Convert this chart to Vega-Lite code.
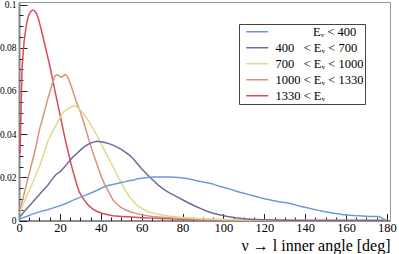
{
"$schema": "https://vega.github.io/schema/vega-lite/v6.json",
"width": 371, "height": 218.5,
"autosize": {"type": "none"},
"padding": {"left": 19, "top": 2, "right": 9, "bottom": 33.5},
"config": {"view": {"stroke": "#999", "strokeWidth": 1}, "font": "Liberation Serif, Times New Roman, serif"},
"datasets": {
"h": [
{"s":"gt1330","a":0.5,"v":0.031},{"s":"gt1330","a":1.5,"v":0.071},{"s":"gt1330","a":2.5,"v":0.083},{"s":"gt1330","a":3.5,"v":0.090},{"s":"gt1330","a":4.5,"v":0.0945},{"s":"gt1330","a":5.5,"v":0.0965},{"s":"gt1330","a":6.5,"v":0.0975},{"s":"gt1330","a":7.5,"v":0.0972},{"s":"gt1330","a":8.5,"v":0.096},{"s":"gt1330","a":9.5,"v":0.0935},{"s":"gt1330","a":10.5,"v":0.0898},{"s":"gt1330","a":11.5,"v":0.086},{"s":"gt1330","a":12.5,"v":0.082},{"s":"gt1330","a":13.5,"v":0.078},{"s":"gt1330","a":14.5,"v":0.074},{"s":"gt1330","a":15.5,"v":0.0698},{"s":"gt1330","a":16.5,"v":0.065},{"s":"gt1330","a":17.5,"v":0.0605},{"s":"gt1330","a":18.5,"v":0.056},{"s":"gt1330","a":19.5,"v":0.0515},{"s":"gt1330","a":20.5,"v":0.047},{"s":"gt1330","a":21.5,"v":0.0425},{"s":"gt1330","a":22.5,"v":0.038},{"s":"gt1330","a":23.5,"v":0.034},{"s":"gt1330","a":24.5,"v":0.030},{"s":"gt1330","a":25.5,"v":0.026},{"s":"gt1330","a":26.5,"v":0.0225},{"s":"gt1330","a":27.5,"v":0.0192},{"s":"gt1330","a":28.5,"v":0.0160},{"s":"gt1330","a":29.5,"v":0.0132},{"s":"gt1330","a":30.5,"v":0.0115},{"s":"gt1330","a":32,"v":0.0093},{"s":"gt1330","a":34,"v":0.0070},{"s":"gt1330","a":36,"v":0.0054},{"s":"gt1330","a":38,"v":0.0043},{"s":"gt1330","a":40,"v":0.0035},{"s":"gt1330","a":43,"v":0.0028},{"s":"gt1330","a":46,"v":0.0022},{"s":"gt1330","a":50,"v":0.0019},{"s":"gt1330","a":55,"v":0.0016},{"s":"gt1330","a":60,"v":0.0013},{"s":"gt1330","a":65,"v":0.0011},{"s":"gt1330","a":70,"v":0.0009},{"s":"gt1330","a":80,"v":0.0006},{"s":"gt1330","a":90,"v":0.0004},{"s":"gt1330","a":100,"v":0.0002},{"s":"gt1330","a":110,"v":0.0001},{"s":"gt1330","a":120,"v":0.00005},{"s":"gt1330","a":140,"v":0},{"s":"gt1330","a":180,"v":0},
{"s":"1000-1330","a":0.5,"v":0.0049},{"s":"1000-1330","a":2,"v":0.0105},{"s":"1000-1330","a":4,"v":0.018},{"s":"1000-1330","a":6,"v":0.0255},{"s":"1000-1330","a":8,"v":0.033},{"s":"1000-1330","a":10,"v":0.042},{"s":"1000-1330","a":12,"v":0.049},{"s":"1000-1330","a":14,"v":0.056},{"s":"1000-1330","a":16,"v":0.0625},{"s":"1000-1330","a":17.5,"v":0.0668},{"s":"1000-1330","a":18.5,"v":0.0675},{"s":"1000-1330","a":19.5,"v":0.0672},{"s":"1000-1330","a":20.5,"v":0.0664},{"s":"1000-1330","a":21.5,"v":0.0668},{"s":"1000-1330","a":22.5,"v":0.0676},{"s":"1000-1330","a":23.5,"v":0.0668},{"s":"1000-1330","a":24.5,"v":0.065},{"s":"1000-1330","a":26,"v":0.061},{"s":"1000-1330","a":28,"v":0.055},{"s":"1000-1330","a":30,"v":0.0505},{"s":"1000-1330","a":32,"v":0.0445},{"s":"1000-1330","a":34,"v":0.038},{"s":"1000-1330","a":36,"v":0.032},{"s":"1000-1330","a":38,"v":0.0265},{"s":"1000-1330","a":40,"v":0.021},{"s":"1000-1330","a":42,"v":0.0165},{"s":"1000-1330","a":44,"v":0.013},{"s":"1000-1330","a":46,"v":0.0095},{"s":"1000-1330","a":48,"v":0.0075},{"s":"1000-1330","a":50,"v":0.006},{"s":"1000-1330","a":52,"v":0.005},{"s":"1000-1330","a":55,"v":0.0038},{"s":"1000-1330","a":60,"v":0.0026},{"s":"1000-1330","a":65,"v":0.0019},{"s":"1000-1330","a":70,"v":0.0015},{"s":"1000-1330","a":80,"v":0.0009},{"s":"1000-1330","a":90,"v":0.0005},{"s":"1000-1330","a":100,"v":0.0002},{"s":"1000-1330","a":110,"v":0.0001},{"s":"1000-1330","a":120,"v":0},{"s":"1000-1330","a":180,"v":0},
{"s":"700-1000","a":0.5,"v":0.0035},{"s":"700-1000","a":2,"v":0.0075},{"s":"700-1000","a":4,"v":0.012},{"s":"700-1000","a":6,"v":0.016},{"s":"700-1000","a":8,"v":0.0205},{"s":"700-1000","a":10,"v":0.025},{"s":"700-1000","a":12,"v":0.0305},{"s":"700-1000","a":14,"v":0.0365},{"s":"700-1000","a":16,"v":0.0405},{"s":"700-1000","a":18,"v":0.0438},{"s":"700-1000","a":20,"v":0.0475},{"s":"700-1000","a":22,"v":0.0505},{"s":"700-1000","a":24,"v":0.0518},{"s":"700-1000","a":26,"v":0.0528},{"s":"700-1000","a":27,"v":0.0532},{"s":"700-1000","a":28,"v":0.0528},{"s":"700-1000","a":30,"v":0.0512},{"s":"700-1000","a":32,"v":0.049},{"s":"700-1000","a":34,"v":0.0462},{"s":"700-1000","a":36,"v":0.043},{"s":"700-1000","a":38,"v":0.0395},{"s":"700-1000","a":40,"v":0.036},{"s":"700-1000","a":42,"v":0.032},{"s":"700-1000","a":44,"v":0.0285},{"s":"700-1000","a":46,"v":0.025},{"s":"700-1000","a":48,"v":0.021},{"s":"700-1000","a":50,"v":0.0175},{"s":"700-1000","a":52,"v":0.014},{"s":"700-1000","a":54,"v":0.011},{"s":"700-1000","a":56,"v":0.0088},{"s":"700-1000","a":58,"v":0.0068},{"s":"700-1000","a":60,"v":0.0057},{"s":"700-1000","a":63,"v":0.0042},{"s":"700-1000","a":66,"v":0.0033},{"s":"700-1000","a":70,"v":0.0025},{"s":"700-1000","a":75,"v":0.0018},{"s":"700-1000","a":80,"v":0.0014},{"s":"700-1000","a":90,"v":0.0008},{"s":"700-1000","a":100,"v":0.0005},{"s":"700-1000","a":110,"v":0.0003},{"s":"700-1000","a":120,"v":0.0001},{"s":"700-1000","a":130,"v":0},{"s":"700-1000","a":180,"v":0},
{"s":"400-700","a":0.5,"v":0.0018},{"s":"400-700","a":2,"v":0.0035},{"s":"400-700","a":4,"v":0.0057},{"s":"400-700","a":6,"v":0.0078},{"s":"400-700","a":8,"v":0.0100},{"s":"400-700","a":10,"v":0.0120},{"s":"400-700","a":12,"v":0.0142},{"s":"400-700","a":14,"v":0.0162},{"s":"400-700","a":16,"v":0.0188},{"s":"400-700","a":18,"v":0.0212},{"s":"400-700","a":20,"v":0.0225},{"s":"400-700","a":22,"v":0.0245},{"s":"400-700","a":24,"v":0.0268},{"s":"400-700","a":26,"v":0.0290},{"s":"400-700","a":28,"v":0.0308},{"s":"400-700","a":30,"v":0.0326},{"s":"400-700","a":32,"v":0.0342},{"s":"400-700","a":34,"v":0.0354},{"s":"400-700","a":36,"v":0.0362},{"s":"400-700","a":38,"v":0.0367},{"s":"400-700","a":40,"v":0.0365},{"s":"400-700","a":42,"v":0.0361},{"s":"400-700","a":44,"v":0.0356},{"s":"400-700","a":46,"v":0.0349},{"s":"400-700","a":48,"v":0.0340},{"s":"400-700","a":50,"v":0.0329},{"s":"400-700","a":52,"v":0.0317},{"s":"400-700","a":54,"v":0.0303},{"s":"400-700","a":56,"v":0.0285},{"s":"400-700","a":58,"v":0.0262},{"s":"400-700","a":60,"v":0.0240},{"s":"400-700","a":62,"v":0.0220},{"s":"400-700","a":64,"v":0.0200},{"s":"400-700","a":66,"v":0.0183},{"s":"400-700","a":68,"v":0.0165},{"s":"400-700","a":70,"v":0.0150},{"s":"400-700","a":72,"v":0.0137},{"s":"400-700","a":74,"v":0.0126},{"s":"400-700","a":76,"v":0.0116},{"s":"400-700","a":78,"v":0.0106},{"s":"400-700","a":80,"v":0.0096},{"s":"400-700","a":83,"v":0.0081},{"s":"400-700","a":86,"v":0.0067},{"s":"400-700","a":89,"v":0.0055},{"s":"400-700","a":92,"v":0.0043},{"s":"400-700","a":95,"v":0.0034},{"s":"400-700","a":98,"v":0.0027},{"s":"400-700","a":102,"v":0.0019},{"s":"400-700","a":106,"v":0.0013},{"s":"400-700","a":110,"v":0.0008},{"s":"400-700","a":115,"v":0.0005},{"s":"400-700","a":120,"v":0.0003},{"s":"400-700","a":130,"v":0.0001},{"s":"400-700","a":140,"v":0},{"s":"400-700","a":180,"v":0},
{"s":"lt400","a":0.5,"v":0.0008},{"s":"lt400","a":2,"v":0.0013},{"s":"lt400","a":4,"v":0.0020},{"s":"lt400","a":6,"v":0.0027},{"s":"lt400","a":8,"v":0.0034},{"s":"lt400","a":10,"v":0.0040},{"s":"lt400","a":12,"v":0.0045},{"s":"lt400","a":14,"v":0.0050},{"s":"lt400","a":16,"v":0.0056},{"s":"lt400","a":18,"v":0.0062},{"s":"lt400","a":20,"v":0.0068},{"s":"lt400","a":22,"v":0.0075},{"s":"lt400","a":24,"v":0.0083},{"s":"lt400","a":26,"v":0.0092},{"s":"lt400","a":28,"v":0.0100},{"s":"lt400","a":30,"v":0.0107},{"s":"lt400","a":32,"v":0.0115},{"s":"lt400","a":34,"v":0.0123},{"s":"lt400","a":36,"v":0.0131},{"s":"lt400","a":38,"v":0.0139},{"s":"lt400","a":40,"v":0.0148},{"s":"lt400","a":42,"v":0.0157},{"s":"lt400","a":44,"v":0.0163},{"s":"lt400","a":46,"v":0.0167},{"s":"lt400","a":48,"v":0.0171},{"s":"lt400","a":50,"v":0.0176},{"s":"lt400","a":52,"v":0.0180},{"s":"lt400","a":54,"v":0.0184},{"s":"lt400","a":56,"v":0.0188},{"s":"lt400","a":58,"v":0.0193},{"s":"lt400","a":60,"v":0.0196},{"s":"lt400","a":62,"v":0.0198},{"s":"lt400","a":64,"v":0.0200},{"s":"lt400","a":66,"v":0.0201},{"s":"lt400","a":68,"v":0.0202},{"s":"lt400","a":70,"v":0.0202},{"s":"lt400","a":72,"v":0.0201},{"s":"lt400","a":74,"v":0.0201},{"s":"lt400","a":76,"v":0.0200},{"s":"lt400","a":78,"v":0.0199},{"s":"lt400","a":80,"v":0.0197},{"s":"lt400","a":82,"v":0.0194},{"s":"lt400","a":84,"v":0.0191},{"s":"lt400","a":86,"v":0.0186},{"s":"lt400","a":88,"v":0.0182},{"s":"lt400","a":90,"v":0.0178},{"s":"lt400","a":92,"v":0.0175},{"s":"lt400","a":94,"v":0.0171},{"s":"lt400","a":96,"v":0.0165},{"s":"lt400","a":98,"v":0.0159},{"s":"lt400","a":100,"v":0.0154},{"s":"lt400","a":102,"v":0.0148},{"s":"lt400","a":104,"v":0.0143},{"s":"lt400","a":106,"v":0.0137},{"s":"lt400","a":108,"v":0.0131},{"s":"lt400","a":110,"v":0.0126},{"s":"lt400","a":112,"v":0.0121},{"s":"lt400","a":114,"v":0.0116},{"s":"lt400","a":116,"v":0.0111},{"s":"lt400","a":118,"v":0.0106},{"s":"lt400","a":120,"v":0.0101},{"s":"lt400","a":122,"v":0.0097},{"s":"lt400","a":124,"v":0.0093},{"s":"lt400","a":126,"v":0.0089},{"s":"lt400","a":128,"v":0.0086},{"s":"lt400","a":130,"v":0.0083},{"s":"lt400","a":132,"v":0.0080},{"s":"lt400","a":134,"v":0.0075},{"s":"lt400","a":136,"v":0.0070},{"s":"lt400","a":138,"v":0.0065},{"s":"lt400","a":140,"v":0.0061},{"s":"lt400","a":142,"v":0.0057},{"s":"lt400","a":144,"v":0.0052},{"s":"lt400","a":146,"v":0.0048},{"s":"lt400","a":148,"v":0.0044},{"s":"lt400","a":150,"v":0.0040},{"s":"lt400","a":152,"v":0.0037},{"s":"lt400","a":154,"v":0.0034},{"s":"lt400","a":156,"v":0.0031},{"s":"lt400","a":158,"v":0.0028},{"s":"lt400","a":160,"v":0.0026},{"s":"lt400","a":164,"v":0.0023},{"s":"lt400","a":168,"v":0.0021},{"s":"lt400","a":172,"v":0.0019},{"s":"lt400","a":176,"v":0.0018},{"s":"lt400","a":177.5,"v":0.0012},{"s":"lt400","a":179.5,"v":0}
]
},
"data": {"name": "h"},
"layer": [
{
"mark": {"type": "line", "strokeWidth": 1.5, "interpolate": "linear"},
"encoding": {
"x": {"field": "a", "type": "quantitative", "scale": {"domain": [0, 181.5], "nice": false, "zero": false},
"axis": {"orient": "bottom", "values": [0,20,40,60,80,100,120,140,160,180], "tickSize": -7, "tickColor": "#222", "tickWidth": 1, "domainColor": "#777", "domainWidth": 1.5, "labelFont": "Liberation Serif, Times New Roman, serif", "labelFontSize": 12.5, "labelColor": "#000", "labelPadding": 8, "labelFlush": false, "labelOverlap": false, "grid": false,
"title": "ν → l inner angle [deg]", "titleFont": "Liberation Serif, Times New Roman, serif", "titleFontSize": 16, "titleFontWeight": "normal", "titleColor": "#000", "titleAnchor": "end", "titleAlign": "right", "titleBaseline": "alphabetic", "titleY": 29.5}},
"y": {"field": "v", "type": "quantitative", "scale": {"domain": [0, 0.1012], "nice": false},
"axis": {"orient": "left", "values": [0,0.02,0.04,0.06,0.08,0.1], "tickSize": -8, "tickColor": "#222", "tickWidth": 1, "domainColor": "#888", "domainWidth": 2, "labelFont": "Liberation Serif, Times New Roman, serif", "labelFontSize": 9.5, "labelColor": "#000", "labelPadding": 11, "labelFlush": false, "labelOverlap": false, "labelExpr": "format(datum.value, '~g')", "title": null, "grid": false}},
"color": {"field": "s", "type": "nominal",
"scale": {"domain": ["lt400", "400-700", "700-1000", "1000-1330", "gt1330"], "range": ["#6e99dc", "#6c6c9c", "#e2da8c", "#d6957c", "#da4b55"]},
"legend": {"title": null, "orient": "none", "legendX": 220, "legendY": 22, "fillColor": "#fff", "strokeColor": "#444", "padding": 1.5, "symbolType": "M-4,0H4", "symbolSize": 30.25, "symbolOffset": 10.5, "symbolStrokeWidth": 1.5, "labelFont": "Liberation Serif, Times New Roman, serif", "labelFontSize": 12.5, "labelColor": "#000", "labelOffset": 12, "rowPadding": 3, "labelLimit": 0,
"labelExpr": "datum.label == 'lt400' ? '\u200b\u00a0\u00a0\u00a0\u00a0\u00a0\u00a0\u00a0\u00a0\u00a0\u00a0\u00a0\u00a0E\u1d65 < 400' : datum.label == '400-700' ? '400\u00a0\u00a0\u00a0< E\u1d65 < 700' : datum.label == '700-1000' ? '700\u00a0\u00a0\u00a0< E\u1d65 < 1000' : datum.label == '1000-1330' ? '1000\u00a0< E\u1d65 < 1330' : '1330\u00a0< E\u1d65'"}}
}
},
{
"mark": {"type": "point", "opacity": 0},
"encoding": {
"x": {"field": "a", "type": "quantitative", "axis": {"orient": "bottom", "values": [5,10,15,25,30,35,45,50,55,65,70,75,85,90,95,105,110,115,125,130,135,145,150,155,165,170,175], "tickSize": -3.5, "tickColor": "#222", "tickWidth": 1, "labels": false, "domain": false, "title": null, "grid": false}},
"y": {"field": "v", "type": "quantitative", "axis": {"orient": "left", "values": [0.005,0.01,0.015,0.025,0.03,0.035,0.045,0.05,0.055,0.065,0.07,0.075,0.085,0.09,0.095], "tickSize": -4, "tickColor": "#222", "tickWidth": 1, "labels": false, "domain": false, "title": null, "grid": false}}
}
}
],
"resolve": {"axis": {"x": "independent", "y": "independent"}}
}
